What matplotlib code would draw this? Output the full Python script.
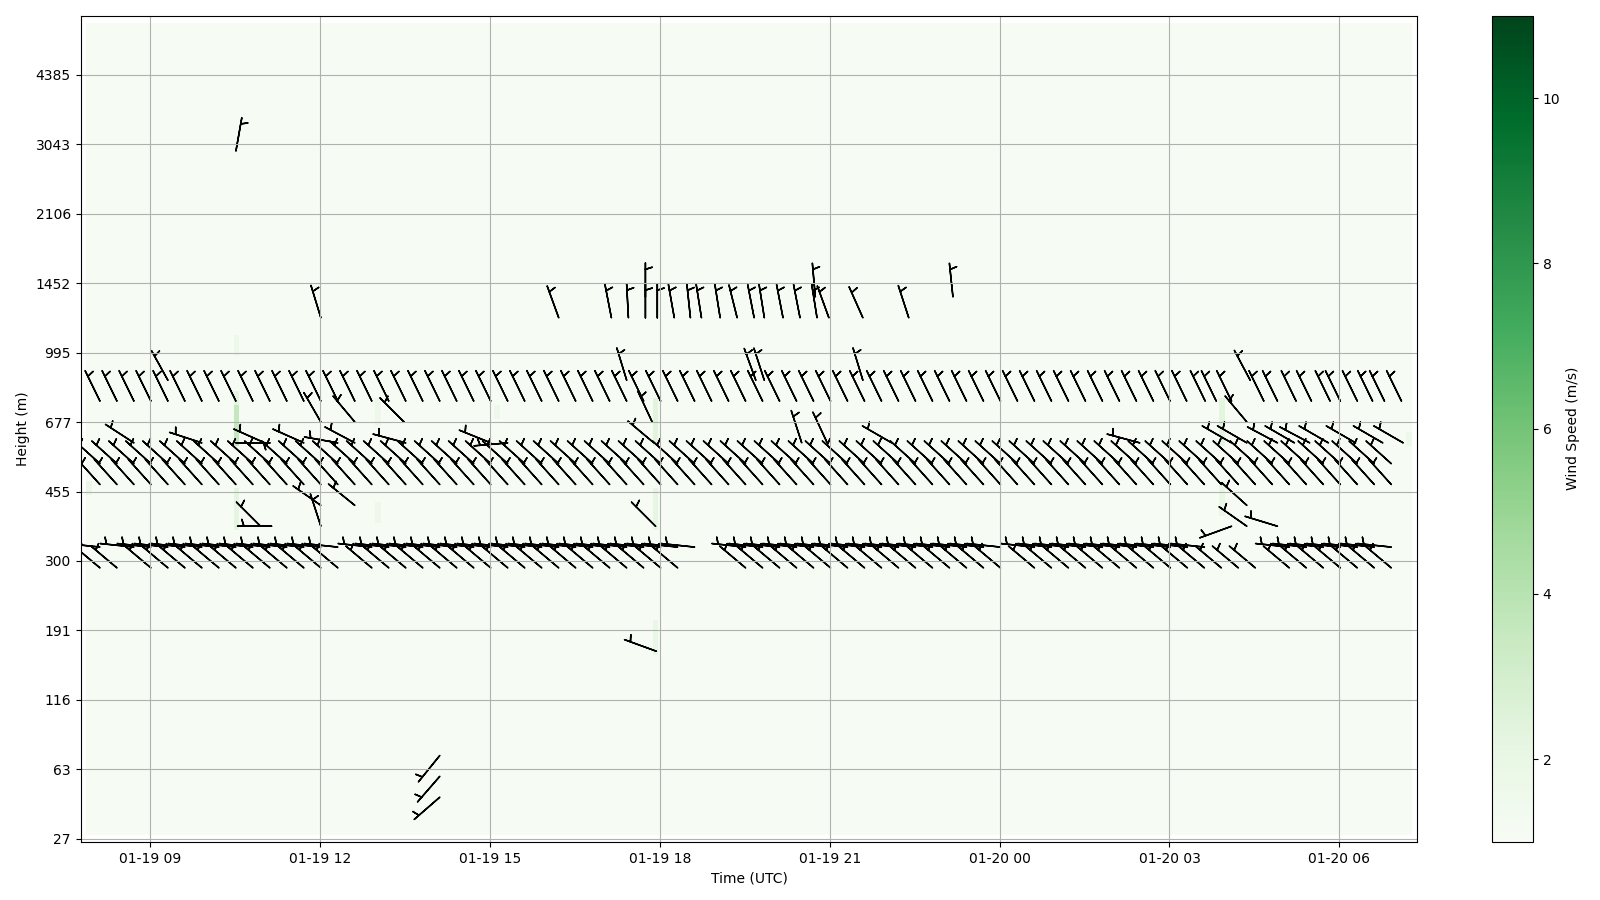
import numpy as np
import pandas as pd
import matplotlib
matplotlib.use("Agg")
import matplotlib.pyplot as plt
import matplotlib.dates as mdates
from matplotlib.colors import Normalize

# ------------------------------------------------------------------ data
HEIGHT_TICK_LABELS = [27, 63, 116, 191, 300, 455, 677, 995, 1452, 2106, 3043, 4385]
N_LEVELS = 119                      # level index 0..118, a tick every 10 levels
TIME_START = "2024-01-19 07:49:30"  # first profile
TIME_STEP_MIN = 6
N_TIMES = 236
BACKGROUND_SPEED = 1.1              # m/s, almost everywhere
SPEED_MIN, SPEED_MAX = 1.0, 11.0

# stronger-wind patches in the colour field
spot_time = ["2024-01-19 10:31", "2024-01-19 10:31", "2024-01-19 10:31", "2024-01-19 10:31",
             "2024-01-19 13:01", "2024-01-19 13:01", "2024-01-19 15:07",
             "2024-01-19 17:55", "2024-01-19 17:55", "2024-01-19 17:55",
             "2024-01-20 03:55", "2024-01-20 03:55", "2024-01-20 07:12", "2024-01-19 07:55"]
spot_lev_lo = [70, 57, 63, 45, 60, 46, 61, 57, 45, 27, 57, 47, 57, 50]
spot_lev_hi = [72, 62, 64, 50, 63, 48, 62, 63, 50, 31, 63, 51, 58, 51]
spot_speed = [1.8, 3.6, 2.3, 2.2, 1.7, 1.7, 1.7, 2.4, 2.1, 1.9, 2.3, 1.9, 1.7, 1.9]

# wind barbs: plotted on a slot grid (every 3rd profile)
BARB_SLOT_START = "2024-01-19 08:07"
BARB_SLOT_MIN = 18
BARB_SPEED = 5.0                     # barb units (one half barb)

# dense rows: level, direction (deg, from), presence over slots 0..76
row_levels = [63, 54, 51, 42, 39]
row_dirs = [334, 312, 318, 276, 310]
row_masks = [
    "XXXXXXXXXX XXXXXXXXXX XXXXXXXXXX XXXXXXXXXX XXXXXXXXXX XXXXXXXXXX XXX....... .......",
    "XXXXXXXXXX XXXXXXXXXX XXXXXXXXXX XXXXXXXXXX XXXXXXXXXX XXXXXXXXXX XXXXXXXXXX XXXXXXX",
    "XXXXXXXXXX XXXXXXXXXX XXXXXXXXXX XXXXXXXXXX XXXXXXXXXX XXXXXXXXXX XXXXXXXXXX XXXXXXX",
    "X.XXXXXXXX XXXXX.XXXX XXXXXXXXXX XXXXXX..XX XXXXXXXXXX XXXX.XXXXX XXXXXX.... XXXXXXX",
    "XX.XXXXXXX XXXXX.XXXX XXXXXXXXXX XXXXX...XX XXXXXXXXXX XXXX.XXXXX XXXXXXXXX. XXXXXXX",
]

# individual barbs: slot position, level, direction (deg, from)
sp_slot = [8.0,
           32.1, 42.1, 50.2,
           13.0, 27.0, 30.1, 31.1, 32.1, 32.8, 33.8, 34.75, 35.4, 36.5, 37.5, 38.5, 39.1,
           40.2, 41.2, 42.2, 42.9, 44.9, 47.6,
           4.0, 31.0, 38.6, 39.1, 44.9, 67.7,
           62.98, 63.96, 65.05, 65.7, 66.6, 68.5, 69.3, 70.4, 71.3, 72.4, 73.0, 74.0, 74.9, 75.6, 76.6,
           13.0, 15.0, 17.9, 32.5, 67.5,
           2.0, 6.0, 8.0, 9.7, 12.0, 14.0, 15.0, 18.0, 23.0, 24.0, 32.6, 41.3, 42.8, 46.6, 61.2,
           66.6, 67.5, 69.3, 70.3, 71.2, 72.3, 73.9, 75.5, 76.7,
           13.0, 15.0, 67.5,
           9.45, 10.1, 13.0, 32.7, 67.5, 69.3, 66.6,
           32.75,
           20.0, 20.0, 20.0]
sp_level = [99,
            78, 78, 78,
            75, 75, 75, 75, 75, 75, 75, 75, 75, 75, 75, 75, 75,
            75, 75, 75, 75, 75, 75,
            66, 66, 66, 66, 66, 66,
            63, 63, 63, 63, 63, 63, 63, 63, 63, 63, 63, 63, 63, 63, 63,
            60, 60, 60, 60, 60,
            57, 57, 57, 57, 57, 57, 57, 57, 57, 57, 57, 57, 57, 57, 57,
            57, 57, 57, 57, 57, 57, 57, 57, 57,
            48, 48, 48,
            45, 45, 45, 45, 45, 45, 45,
            27,
            12, 9, 6]
sp_dir = [10,
          0, 355, 354,
          343, 340, 349, 357, 0, 0, 350, 354, 351, 351, 346, 349, 351,
          349, 349, 351, 340, 336, 342,
          331, 343, 340, 342, 343, 332,
          334, 334, 334, 334, 334, 334, 334, 334, 334, 334, 334, 334, 334, 334, 334,
          330, 320, 315, 335, 320,
          303, 288, 90, 294, 294, 280, 298, 285, 292, 265, 310, 342, 335, 300, 285,
          300, 300, 298, 300, 298, 300, 300, 300, 300,
          305, 309, 312,
          315, 270, 342, 315, 305, 287, 250,
          290,
          219, 221, 229]

# ------------------------------------------------------------------ build
times = pd.date_range(TIME_START, periods=N_TIMES, freq=f"{TIME_STEP_MIN}min")
levels = np.arange(N_LEVELS)
speed = np.full((N_LEVELS, N_TIMES), BACKGROUND_SPEED)
for t, lo, hi, s in zip(spot_time, spot_lev_lo, spot_lev_hi, spot_speed):
    j = int(np.argmin(np.abs(times - pd.Timestamp(t))))
    speed[lo:hi + 1, j] = s
# outermost profiles / gates carry no data
speed = np.ma.masked_array(speed)
speed[0, :] = np.ma.masked
speed[-1, :] = np.ma.masked
speed[:, 0] = np.ma.masked
speed[:, -1] = np.ma.masked

slot0 = pd.Timestamp(BARB_SLOT_START)
bx, by, bd = [], [], []
for lev, d, mask in zip(row_levels, row_dirs, row_masks):
    m = mask.replace(" ", "")
    for i, ch in enumerate(m):
        if ch == "X":
            bx.append(slot0 + pd.Timedelta(minutes=BARB_SLOT_MIN * i))
            by.append(lev)
            bd.append(d)
for s, lev, d in zip(sp_slot, sp_level, sp_dir):
    bx.append(slot0 + pd.Timedelta(minutes=BARB_SLOT_MIN * s))
    by.append(lev)
    bd.append(d)
bxn = mdates.date2num(pd.DatetimeIndex(bx).to_pydatetime())
rad = np.deg2rad(np.array(bd, dtype=float))
bu = -BARB_SPEED * np.sin(rad)
bv = -BARB_SPEED * np.cos(rad)

# ------------------------------------------------------------------ plot
fig = plt.figure(figsize=(16, 9), dpi=100)
ax = fig.add_axes([0.0504, 0.0641, 0.8354, 0.9185])
tnum = mdates.date2num(times.to_pydatetime())
qm = ax.pcolormesh(tnum, levels, speed, cmap="Greens",
                   norm=Normalize(SPEED_MIN, SPEED_MAX), shading="nearest")
ax.barbs(bxn, by, bu, bv, length=7, color="black", linewidth=1.1)

dt = TIME_STEP_MIN / 1440.0
ax.set_xlim(tnum[0] - dt / 2, tnum[-1] + dt / 2)
ax.set_ylim(-0.5, N_LEVELS - 0.5)
ax.set_yticks(np.arange(0, 10 * len(HEIGHT_TICK_LABELS), 10))
ax.set_yticklabels([str(h) for h in HEIGHT_TICK_LABELS])
ax.xaxis.set_major_locator(mdates.HourLocator(byhour=range(0, 24, 3)))
ax.xaxis.set_major_formatter(mdates.DateFormatter("%m-%d %H"))
ax.grid(True)
ax.set_xlabel("Time (UTC)")
ax.set_ylabel("Height (m)")

cax = fig.add_axes([0.9324, 0.0647, 0.0256, 0.918])
cb = fig.colorbar(qm, cax=cax)
cb.set_label("Wind Speed (m/s)")

fig.savefig("out.png", dpi=100)
